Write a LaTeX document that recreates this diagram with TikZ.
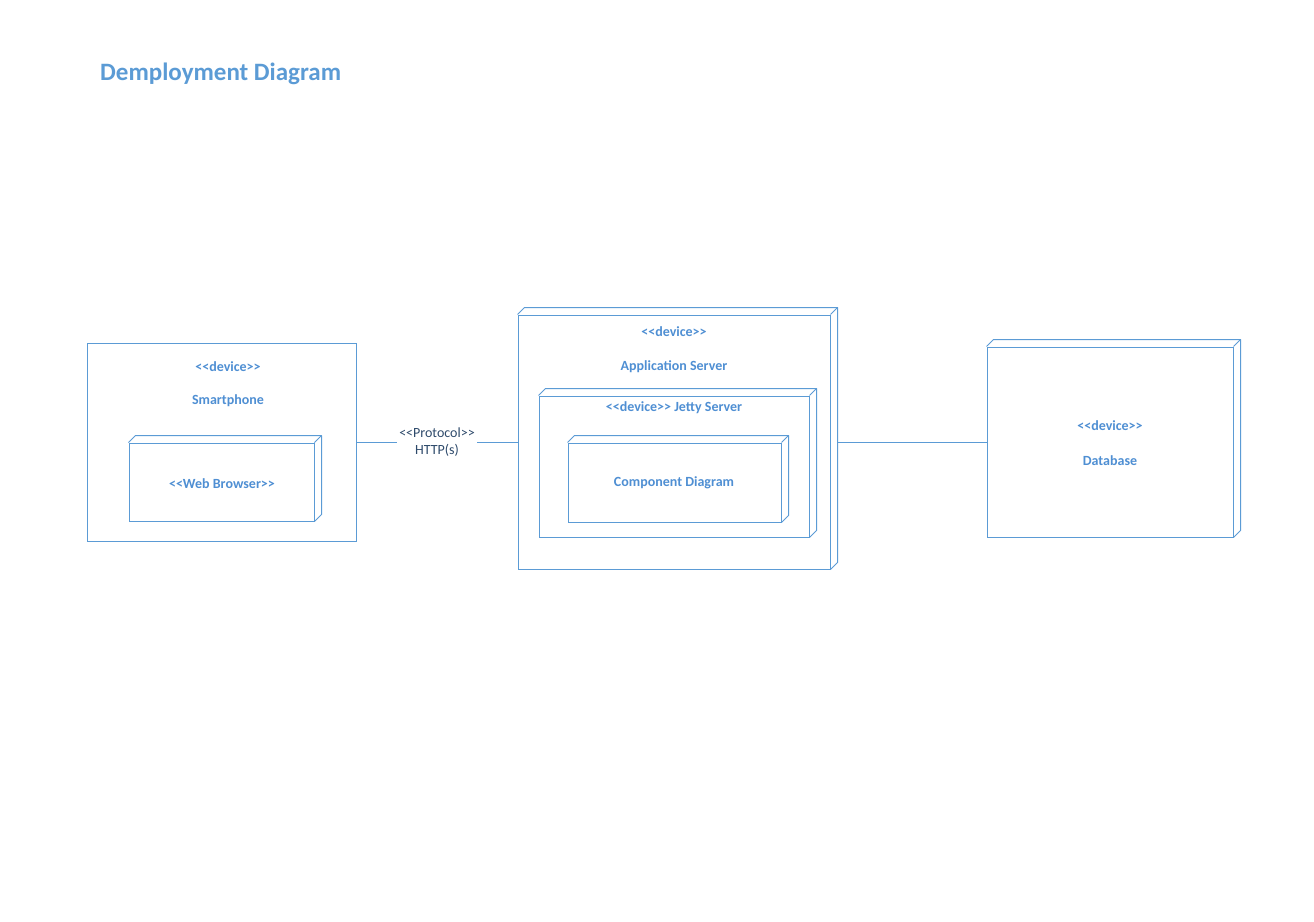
\documentclass[tikz,border=0pt]{standalone}
\usepackage{fontspec}
\setmainfont{Carlito}
\usetikzlibrary{calc}
\definecolor{boxc}{HTML}{5B9BD5}
\definecolor{txtc}{HTML}{4F8FD3}
\definecolor{lblc}{HTML}{2E4A6B}
\tikzset{
  frame/.style={draw=boxc, line width=1pt, rectangle, inner sep=0pt, fill=white},
  lbl/.style={text=txtc, font=\fontsize{14}{16}\selectfont\bfseries, inner sep=1pt},
  conn/.style={draw=boxc, line width=1pt},
}
\newcommand{\depthbox}[1]{%
  \draw[boxc, line width=1pt, line join=round] (#1.north west) -- ++(7,-7) -- ($(#1.north east)+(7,-7)$) -- ($(#1.south east)+(7,-7)$) -- (#1.south east);
  \draw[boxc, line width=1pt] (#1.north east) -- ++(7,-7);
}
\newcommand{\lt}{<{}<}
\newcommand{\gt}{>{}>}
\begin{document}
\begin{tikzpicture}[x=1pt,y=-1pt]
\useasboundingbox[fill=white] (0,0) rectangle (1314,921);

\node[anchor=west, text=boxc, font=\fontsize{25}{29}\selectfont\bfseries, inner sep=0pt] (title) at (100,74) {Demployment Diagram};

% Smartphone
\node[frame, minimum width=269pt, minimum height=198pt] (phone) at (221.5,442) {};
\node[lbl] (phdev) at (228,367) {\lt device\gt};
\node[lbl] (phname) at (228,401) {Smartphone};
\node[frame, minimum width=185pt, minimum height=78pt] (web) at (221.5,482) {};
\depthbox{web}
\node[lbl] (webtxt) at (222,484) {\lt Web Browser\gt};

% Application server
\node[frame, minimum width=312pt, minimum height=254pt] (app) at (674,442) {};
\depthbox{app}
\node[lbl] (appdev) at (674,332) {\lt device\gt};
\node[lbl] (appname) at (674,367) {Application Server};
\node[frame, minimum width=270pt, minimum height=141pt] (jetty) at (674,466.5) {};
\depthbox{jetty}
\node[lbl] (jettytxt) at (674,408) {\lt device\gt{} Jetty Server};
\node[frame, minimum width=213pt, minimum height=79pt] (comp) at (674.5,482.5) {};
\depthbox{comp}
\node[lbl] (comptxt) at (674,483) {Component Diagram};

% Database
\node[frame, minimum width=246pt, minimum height=190pt] (db) at (1110,442) {};
\depthbox{db}
\node[lbl] (dbdev) at (1110,426) {\lt device\gt};
\node[lbl] (dbname) at (1110,461) {Database};

% Connectors
\coordinate (appR) at ($(app.east)+(7,0)$);
\draw[conn] (phone.east) -- (app.west)
  node[midway, fill=white, text=lblc, font=\fontsize{14}{17}\selectfont, align=center, inner sep=2pt] (proto) {\lt Protocol\gt\\HTTP(s)};
\draw[conn] (appR) -- (db.west);
\end{tikzpicture}
\end{document}
